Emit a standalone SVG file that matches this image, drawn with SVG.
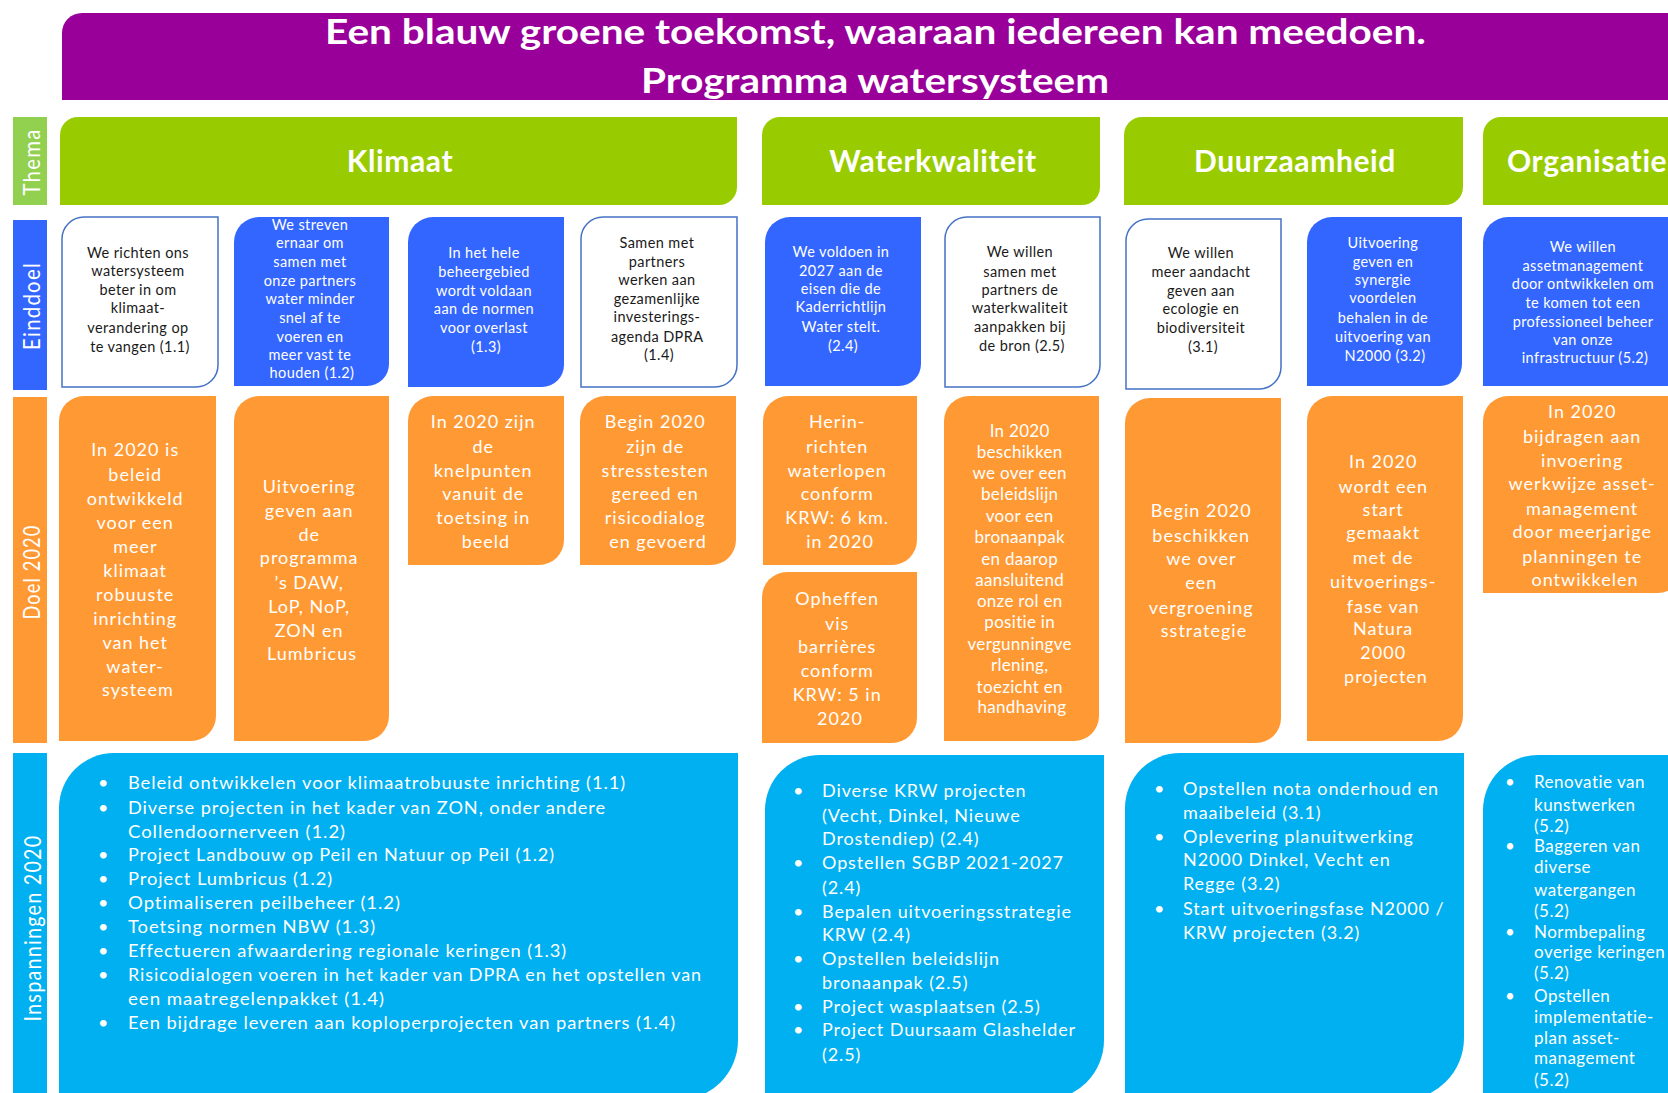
<svg xmlns="http://www.w3.org/2000/svg" width="1668" height="1093" viewBox="0 0 1668 1093">
  <style>
    text { font-family: Lato, "Open Sans", "Liberation Sans", sans-serif; }
    .pur { fill: #990099; }
    .grn { fill: #99CC00; }
    .lgn { fill: #92D050; }
    .blu { fill: #3366FF; }
    .wht { fill: #FFFFFF; stroke: #4472C4; stroke-width: 1.5; }
    .org { fill: #FF9933; }
    .cyn { fill: #00B0F0; }
    .ttl { font-size: 35px; font-weight: 700; fill: #FFFFFF; text-anchor: middle; }
    .thm { font-size: 30px; font-weight: 700; fill: #FFFFFF; text-anchor: middle; letter-spacing: 0.6px; }
    .row { font-size: 24px; fill: #FFFFFF; text-anchor: middle; letter-spacing: 1.5px; }
    .ed { font-size: 14.5px; text-anchor: middle; letter-spacing: 0.4px; }
    .edw { fill: #FFFFFF; }
    .edk { fill: #1A1A1A; }
    .dl { font-size: 18px; fill: #FFFFFF; text-anchor: middle; letter-spacing: 1px; }
    .dls { font-size: 17px; letter-spacing: 0.3px; }
    .in { font-size: 18px; fill: #FFFFFF; letter-spacing: 0.9px; }
    .ins { font-size: 17px; letter-spacing: 0.5px; }
  </style>

  <rect width="1668" height="1093" fill="#FFFFFF"/>

  <!-- Header banner -->
  <g id="banner">
    <path class="pur" d="M82,13 H1668 V100 H62 V33 A20,20 0 0 1 82,13 Z"/>
    <text class="ttl" x="875.5" y="44" textLength="1101" lengthAdjust="spacingAndGlyphs">Een blauw groene toekomst, waaraan iedereen kan meedoen.</text>
    <text class="ttl" x="875" y="93" textLength="468" lengthAdjust="spacingAndGlyphs">Programma watersysteem</text>
  </g>

  <!-- Row labels -->
  <g id="row-thema">
    <rect class="lgn" x="13" y="117" width="34" height="88"/>
    <text class="row" transform="translate(40,162) rotate(-90)" textLength="67" lengthAdjust="spacingAndGlyphs">Thema</text>
  </g>
  <g id="row-einddoel">
    <rect class="blu" x="13" y="220" width="34" height="170"/>
    <text class="row" transform="translate(40,306) rotate(-90)" textLength="88" lengthAdjust="spacingAndGlyphs">Einddoel</text>
  </g>
  <g id="row-doel">
    <rect class="org" x="13" y="397" width="34" height="346"/>
    <text class="row" transform="translate(40,572) rotate(-90)" textLength="95" lengthAdjust="spacingAndGlyphs">Doel 2020</text>
  </g>
  <g id="row-inspanningen">
    <rect class="cyn" x="13" y="753" width="34" height="345"/>
    <text class="row" transform="translate(41,928) rotate(-90)" textLength="187" lengthAdjust="spacingAndGlyphs">Inspanningen 2020</text>
  </g>

  <!-- Themes -->
  <g id="thema-klimaat">
    <path class="grn" d="M78,117 H737 V187 A18,18 0 0 1 719,205 H60 V135 A18,18 0 0 1 78,117 Z"/>
    <text class="thm" x="400" y="172">Klimaat</text>
  </g>
  <g id="thema-waterkwaliteit">
    <path class="grn" d="M780,117 H1100 V187 A18,18 0 0 1 1082,205 H762 V135 A18,18 0 0 1 780,117 Z"/>
    <text class="thm" x="933" y="172">Waterkwaliteit</text>
  </g>
  <g id="thema-duurzaamheid">
    <path class="grn" d="M1142,117 H1463 V187 A18,18 0 0 1 1445,205 H1124 V135 A18,18 0 0 1 1142,117 Z"/>
    <text class="thm" x="1295" y="172">Duurzaamheid</text>
  </g>
  <g id="thema-organisatie">
    <path class="grn" d="M1501,117 H1680 V205 H1483 V135 A18,18 0 0 1 1501,117 Z"/>
    <text class="thm" x="1507" y="172" style="text-anchor:start">Organisatie</text>
  </g>

  <!-- Einddoelen -->
  <g id="einddoel-1-1">
    <path class="wht" d="M84,217 H218 V365 A22,22 0 0 1 196,387 H62 V239 A22,22 0 0 1 84,217 Z"/>
    <text class="ed edk">
      <tspan x="140" y="258">We richten ons</tspan>
      <tspan x="140" y="276">watersysteem</tspan>
      <tspan x="140" y="295">beter in om</tspan>
      <tspan x="140" y="313">klimaat-</tspan>
      <tspan x="140" y="333">verandering op</tspan>
      <tspan x="140" y="352">te vangen (1.1)</tspan>
    </text>
  </g>
  <g id="einddoel-1-2">
    <path class="blu" d="M259,217 H389 V364 A22,22 0 0 1 367,386 H234 V242 A25,25 0 0 1 259,217 Z"/>
    <text class="ed edw">
      <tspan x="312" y="230">We streven</tspan>
      <tspan x="312" y="248">ernaar om</tspan>
      <tspan x="312" y="267">samen met</tspan>
      <tspan x="312" y="286">onze partners</tspan>
      <tspan x="312" y="304">water minder</tspan>
      <tspan x="312" y="323">snel af te</tspan>
      <tspan x="312" y="342">voeren en</tspan>
      <tspan x="312" y="360">meer vast te</tspan>
      <tspan x="312" y="378">houden (1.2)</tspan>
    </text>
  </g>
  <g id="einddoel-1-3">
    <path class="blu" d="M433,217 H564 V365 A22,22 0 0 1 542,387 H408 V242 A25,25 0 0 1 433,217 Z"/>
    <text class="ed edw">
      <tspan x="486" y="258">In het hele</tspan>
      <tspan x="486" y="277">beheergebied</tspan>
      <tspan x="486" y="296">wordt voldaan</tspan>
      <tspan x="486" y="314">aan de normen</tspan>
      <tspan x="486" y="333">voor overlast</tspan>
      <tspan x="486" y="352">(1.3)</tspan>
    </text>
  </g>
  <g id="einddoel-1-4">
    <path class="wht" d="M603,217 H737 V365 A22,22 0 0 1 715,387 H581 V239 A22,22 0 0 1 603,217 Z"/>
    <text class="ed edk">
      <tspan x="659" y="248">Samen met</tspan>
      <tspan x="659" y="267">partners</tspan>
      <tspan x="659" y="285">werken aan</tspan>
      <tspan x="659" y="304">gezamenlijke</tspan>
      <tspan x="659" y="322">investerings-</tspan>
      <tspan x="659" y="342">agenda DPRA</tspan>
      <tspan x="659" y="360">(1.4)</tspan>
    </text>
  </g>
  <g id="einddoel-2-4">
    <path class="blu" d="M790,217 H921 V364 A22,22 0 0 1 899,386 H765 V242 A25,25 0 0 1 790,217 Z"/>
    <text class="ed edw">
      <tspan x="843" y="257">We voldoen in</tspan>
      <tspan x="843" y="276">2027 aan de</tspan>
      <tspan x="843" y="294">eisen die de</tspan>
      <tspan x="843" y="312">Kaderrichtlijn</tspan>
      <tspan x="843" y="332">Water stelt.</tspan>
      <tspan x="843" y="351">(2.4)</tspan>
    </text>
  </g>
  <g id="einddoel-2-5">
    <path class="wht" d="M967,217 H1100 V365 A22,22 0 0 1 1078,387 H945 V239 A22,22 0 0 1 967,217 Z"/>
    <text class="ed edk">
      <tspan x="1022" y="257">We willen</tspan>
      <tspan x="1022" y="277">samen met</tspan>
      <tspan x="1022" y="295">partners de</tspan>
      <tspan x="1022" y="313">waterkwaliteit</tspan>
      <tspan x="1022" y="332">aanpakken bij</tspan>
      <tspan x="1022" y="351">de bron (2.5)</tspan>
    </text>
  </g>
  <g id="einddoel-3-1">
    <path class="wht" d="M1148,219 H1281 V367 A22,22 0 0 1 1259,389 H1126 V241 A22,22 0 0 1 1148,219 Z"/>
    <text class="ed edk">
      <tspan x="1203" y="258">We willen</tspan>
      <tspan x="1203" y="277">meer aandacht</tspan>
      <tspan x="1203" y="296">geven aan</tspan>
      <tspan x="1203" y="314">ecologie en</tspan>
      <tspan x="1203" y="333">biodiversiteit</tspan>
      <tspan x="1203" y="352">(3.1)</tspan>
    </text>
  </g>
  <g id="einddoel-3-2">
    <path class="blu" d="M1332,217 H1462 V364 A22,22 0 0 1 1440,386 H1307 V242 A25,25 0 0 1 1332,217 Z"/>
    <text class="ed edw">
      <tspan x="1385" y="248">Uitvoering</tspan>
      <tspan x="1385" y="267">geven en</tspan>
      <tspan x="1385" y="285">synergie</tspan>
      <tspan x="1385" y="303">voordelen</tspan>
      <tspan x="1385" y="323">behalen in de</tspan>
      <tspan x="1385" y="342">uitvoering van</tspan>
      <tspan x="1385" y="361">N2000 (3.2)</tspan>
    </text>
  </g>
  <g id="einddoel-5-2">
    <path class="blu" d="M1508,217 H1680 V386 H1483 V242 A25,25 0 0 1 1508,217 Z"/>
    <text class="ed edw">
      <tspan x="1585" y="252">We willen</tspan>
      <tspan x="1585" y="271">assetmanagement</tspan>
      <tspan x="1585" y="289">door ontwikkelen om</tspan>
      <tspan x="1585" y="308">te komen tot een</tspan>
      <tspan x="1585" y="327">professioneel beheer</tspan>
      <tspan x="1585" y="345">van onze</tspan>
      <tspan x="1585" y="363">infrastructuur (5.2)</tspan>
    </text>
  </g>

  <!-- Doelen 2020 -->
  <g id="doel-1-1">
    <path class="org" d="M84,396 H216 V716 A25,25 0 0 1 191,741 H59 V421 A25,25 0 0 1 84,396 Z"/>
    <text class="dl">
      <tspan x="138" y="456">In 2020 is</tspan>
      <tspan x="138" y="481">beleid</tspan>
      <tspan x="138" y="505">ontwikkeld</tspan>
      <tspan x="138" y="529">voor een</tspan>
      <tspan x="138" y="553">meer</tspan>
      <tspan x="138" y="577">klimaat</tspan>
      <tspan x="138" y="601">robuuste</tspan>
      <tspan x="138" y="625">inrichting</tspan>
      <tspan x="138" y="649">van het</tspan>
      <tspan x="138" y="673">water-</tspan>
      <tspan x="138" y="696">systeem</tspan>
    </text>
  </g>
  <g id="doel-1-2">
    <path class="org" d="M259,396 H389 V716 A25,25 0 0 1 364,741 H234 V421 A25,25 0 0 1 259,396 Z"/>
    <text class="dl">
      <tspan x="312" y="493">Uitvoering</tspan>
      <tspan x="312" y="517">geven aan</tspan>
      <tspan x="312" y="541">de</tspan>
      <tspan x="312" y="564">programma</tspan>
      <tspan x="312" y="589">’s DAW,</tspan>
      <tspan x="312" y="613">LoP, NoP,</tspan>
      <tspan x="312" y="637">ZON en</tspan>
      <tspan x="312" y="660">Lumbricus</tspan>
    </text>
  </g>
  <g id="doel-1-3">
    <path class="org" d="M433,396 H564 V540 A25,25 0 0 1 539,565 H408 V421 A25,25 0 0 1 433,396 Z"/>
    <text class="dl">
      <tspan x="486" y="428">In 2020 zijn</tspan>
      <tspan x="486" y="453">de</tspan>
      <tspan x="486" y="477">knelpunten</tspan>
      <tspan x="486" y="500">vanuit de</tspan>
      <tspan x="486" y="524">toetsing in</tspan>
      <tspan x="486" y="548">beeld</tspan>
    </text>
  </g>
  <g id="doel-1-4">
    <path class="org" d="M605,396 H736 V540 A25,25 0 0 1 711,565 H580 V421 A25,25 0 0 1 605,396 Z"/>
    <text class="dl">
      <tspan x="658" y="428">Begin 2020</tspan>
      <tspan x="658" y="453">zijn de</tspan>
      <tspan x="658" y="477">stresstesten</tspan>
      <tspan x="658" y="500">gereed en</tspan>
      <tspan x="658" y="524">risicodialog</tspan>
      <tspan x="658" y="548">en gevoerd</tspan>
    </text>
  </g>
  <g id="doel-2-4a">
    <path class="org" d="M788,396 H917 V540 A25,25 0 0 1 892,565 H763 V421 A25,25 0 0 1 788,396 Z"/>
    <text class="dl">
      <tspan x="840" y="428">Herin-</tspan>
      <tspan x="840" y="453">richten</tspan>
      <tspan x="840" y="477">waterlopen</tspan>
      <tspan x="840" y="500">conform</tspan>
      <tspan x="840" y="524">KRW: 6 km.</tspan>
      <tspan x="840" y="548">in 2020</tspan>
    </text>
  </g>
  <g id="doel-2-4b">
    <path class="org" d="M787,572 H917 V718 A25,25 0 0 1 892,743 H762 V597 A25,25 0 0 1 787,572 Z"/>
    <text class="dl">
      <tspan x="840" y="605">Opheffen</tspan>
      <tspan x="840" y="630">vis</tspan>
      <tspan x="840" y="653">barrières</tspan>
      <tspan x="840" y="677">conform</tspan>
      <tspan x="840" y="701">KRW: 5 in</tspan>
      <tspan x="840" y="725">2020</tspan>
    </text>
  </g>
  <g id="doel-2-5">
    <path class="org" d="M969,396 H1099 V716 A25,25 0 0 1 1074,741 H944 V421 A25,25 0 0 1 969,396 Z"/>
    <text class="dl dls">
      <tspan x="1022" y="437">In 2020</tspan>
      <tspan x="1022" y="458">beschikken</tspan>
      <tspan x="1022" y="479">we over een</tspan>
      <tspan x="1022" y="500">beleidslijn</tspan>
      <tspan x="1022" y="522">voor een</tspan>
      <tspan x="1022" y="543">bronaanpak</tspan>
      <tspan x="1022" y="565">en daarop</tspan>
      <tspan x="1022" y="586">aansluitend</tspan>
      <tspan x="1022" y="607">onze rol en</tspan>
      <tspan x="1022" y="628">positie in</tspan>
      <tspan x="1022" y="650">vergunningve</tspan>
      <tspan x="1022" y="671">rlening,</tspan>
      <tspan x="1022" y="693">toezicht en</tspan>
      <tspan x="1022" y="713">handhaving</tspan>
    </text>
  </g>
  <g id="doel-3-1">
    <path class="org" d="M1150,398 H1281 V718 A25,25 0 0 1 1256,743 H1125 V423 A25,25 0 0 1 1150,398 Z"/>
    <text class="dl">
      <tspan x="1204" y="517">Begin 2020</tspan>
      <tspan x="1204" y="542">beschikken</tspan>
      <tspan x="1204" y="565">we over</tspan>
      <tspan x="1204" y="589">een</tspan>
      <tspan x="1204" y="614">vergroening</tspan>
      <tspan x="1204" y="637">sstrategie</tspan>
    </text>
  </g>
  <g id="doel-3-2">
    <path class="org" d="M1332,396 H1463 V716 A25,25 0 0 1 1438,741 H1307 V421 A25,25 0 0 1 1332,396 Z"/>
    <text class="dl">
      <tspan x="1386" y="468">In 2020</tspan>
      <tspan x="1386" y="493">wordt een</tspan>
      <tspan x="1386" y="516">start</tspan>
      <tspan x="1386" y="539">gemaakt</tspan>
      <tspan x="1386" y="564">met de</tspan>
      <tspan x="1386" y="588">uitvoerings-</tspan>
      <tspan x="1386" y="613">fase van</tspan>
      <tspan x="1386" y="635">Natura</tspan>
      <tspan x="1386" y="659">2000</tspan>
      <tspan x="1386" y="683">projecten</tspan>
    </text>
  </g>
  <g id="doel-5-2">
    <path class="org" d="M1508,396 H1683 V568 A25,25 0 0 1 1658,593 H1483 V421 A25,25 0 0 1 1508,396 Z"/>
    <text class="dl">
      <tspan x="1585" y="418">In 2020</tspan>
      <tspan x="1585" y="443">bijdragen aan</tspan>
      <tspan x="1585" y="467">invoering</tspan>
      <tspan x="1585" y="490">werkwijze asset-</tspan>
      <tspan x="1585" y="515">management</tspan>
      <tspan x="1585" y="538">door meerjarige</tspan>
      <tspan x="1585" y="563">planningen te</tspan>
      <tspan x="1585" y="586">ontwikkelen</tspan>
    </text>
  </g>

  <!-- Inspanningen 2020 -->
  <g id="inspanningen-klimaat">
    <path class="cyn" d="M114,753 H738 V1040 A60,60 0 0 1 678,1100 H59 V808 A55,55 0 0 1 114,753 Z"/>
    <text class="in">
      <tspan x="98" y="789">•</tspan><tspan x="128" y="789" textLength="498" lengthAdjust="spacingAndGlyphs">Beleid ontwikkelen voor klimaatrobuuste inrichting (1.1)</tspan>
      <tspan x="98" y="814">•</tspan><tspan x="128" y="814" textLength="478" lengthAdjust="spacingAndGlyphs">Diverse projecten in het kader van ZON, onder andere</tspan>
      <tspan x="128" y="838" textLength="218" lengthAdjust="spacingAndGlyphs">Collendoornerveen (1.2)</tspan>
      <tspan x="98" y="861">•</tspan><tspan x="128" y="861" textLength="427" lengthAdjust="spacingAndGlyphs">Project Landbouw op Peil en Natuur op Peil (1.2)</tspan>
      <tspan x="98" y="885">•</tspan><tspan x="128" y="885" textLength="205" lengthAdjust="spacingAndGlyphs">Project Lumbricus (1.2)</tspan>
      <tspan x="98" y="909">•</tspan><tspan x="128" y="909" textLength="273" lengthAdjust="spacingAndGlyphs">Optimaliseren peilbeheer (1.2)</tspan>
      <tspan x="98" y="933">•</tspan><tspan x="128" y="933" textLength="248" lengthAdjust="spacingAndGlyphs">Toetsing normen NBW (1.3)</tspan>
      <tspan x="98" y="957">•</tspan><tspan x="128" y="957" textLength="439" lengthAdjust="spacingAndGlyphs">Effectueren afwaardering regionale keringen (1.3)</tspan>
      <tspan x="98" y="981">•</tspan><tspan x="128" y="981" textLength="574" lengthAdjust="spacingAndGlyphs">Risicodialogen voeren in het kader van DPRA en het opstellen van</tspan>
      <tspan x="128" y="1005" textLength="257" lengthAdjust="spacingAndGlyphs">een maatregelenpakket (1.4)</tspan>
      <tspan x="98" y="1029">•</tspan><tspan x="128" y="1029" textLength="548" lengthAdjust="spacingAndGlyphs">Een bijdrage leveren aan koploperprojecten van partners (1.4)</tspan>
    </text>
  </g>
  <g id="inspanningen-waterkwaliteit">
    <path class="cyn" d="M820,755 H1104 V1040 A60,60 0 0 1 1044,1100 H765 V810 A55,55 0 0 1 820,755 Z"/>
    <text class="in">
      <tspan x="793" y="797">•</tspan><tspan x="822" y="797">Diverse KRW projecten</tspan>
      <tspan x="822" y="822">(Vecht, Dinkel, Nieuwe</tspan>
      <tspan x="822" y="845">Drostendiep) (2.4)</tspan>
      <tspan x="793" y="869">•</tspan><tspan x="822" y="869">Opstellen SGBP 2021-2027</tspan>
      <tspan x="822" y="894">(2.4)</tspan>
      <tspan x="793" y="918">•</tspan><tspan x="822" y="918">Bepalen uitvoeringsstrategie</tspan>
      <tspan x="822" y="941">KRW (2.4)</tspan>
      <tspan x="793" y="965">•</tspan><tspan x="822" y="965">Opstellen beleidslijn</tspan>
      <tspan x="822" y="989">bronaanpak (2.5)</tspan>
      <tspan x="793" y="1013">•</tspan><tspan x="822" y="1013">Project wasplaatsen (2.5)</tspan>
      <tspan x="793" y="1036">•</tspan><tspan x="822" y="1036">Project Duursaam Glashelder</tspan>
      <tspan x="822" y="1061">(2.5)</tspan>
    </text>
  </g>
  <g id="inspanningen-duurzaamheid">
    <path class="cyn" d="M1180,753 H1464 V1038 A62,62 0 0 1 1402,1100 H1125 V808 A55,55 0 0 1 1180,753 Z"/>
    <text class="in">
      <tspan x="1154" y="795">•</tspan><tspan x="1183" y="795">Opstellen nota onderhoud en</tspan>
      <tspan x="1183" y="819">maaibeleid (3.1)</tspan>
      <tspan x="1154" y="843">•</tspan><tspan x="1183" y="843">Oplevering planuitwerking</tspan>
      <tspan x="1183" y="866">N2000 Dinkel, Vecht en</tspan>
      <tspan x="1183" y="890">Regge (3.2)</tspan>
      <tspan x="1154" y="915">•</tspan><tspan x="1183" y="915">Start uitvoeringsfase N2000 /</tspan>
      <tspan x="1183" y="939">KRW projecten (3.2)</tspan>
    </text>
  </g>
  <g id="inspanningen-organisatie">
    <path class="cyn" d="M1538,755 H1680 V1100 H1483 V810 A55,55 0 0 1 1538,755 Z"/>
    <text class="in ins">
      <tspan x="1505" y="788">•</tspan><tspan x="1534" y="788">Renovatie van</tspan>
      <tspan x="1534" y="811">kunstwerken</tspan>
      <tspan x="1534" y="832">(5.2)</tspan>
      <tspan x="1505" y="852">•</tspan><tspan x="1534" y="852">Baggeren van</tspan>
      <tspan x="1534" y="873">diverse</tspan>
      <tspan x="1534" y="896">watergangen</tspan>
      <tspan x="1534" y="917">(5.2)</tspan>
      <tspan x="1505" y="938">•</tspan><tspan x="1534" y="938">Normbepaling</tspan>
      <tspan x="1534" y="958">overige keringen</tspan>
      <tspan x="1534" y="979">(5.2)</tspan>
      <tspan x="1505" y="1002">•</tspan><tspan x="1534" y="1002">Opstellen</tspan>
      <tspan x="1534" y="1023">implementatie-</tspan>
      <tspan x="1534" y="1044">plan asset-</tspan>
      <tspan x="1534" y="1064">management</tspan>
      <tspan x="1534" y="1086">(5.2)</tspan>
    </text>
  </g>

  <!-- This chart has no connectors -->
  <g id="connectors"/>
</svg>
